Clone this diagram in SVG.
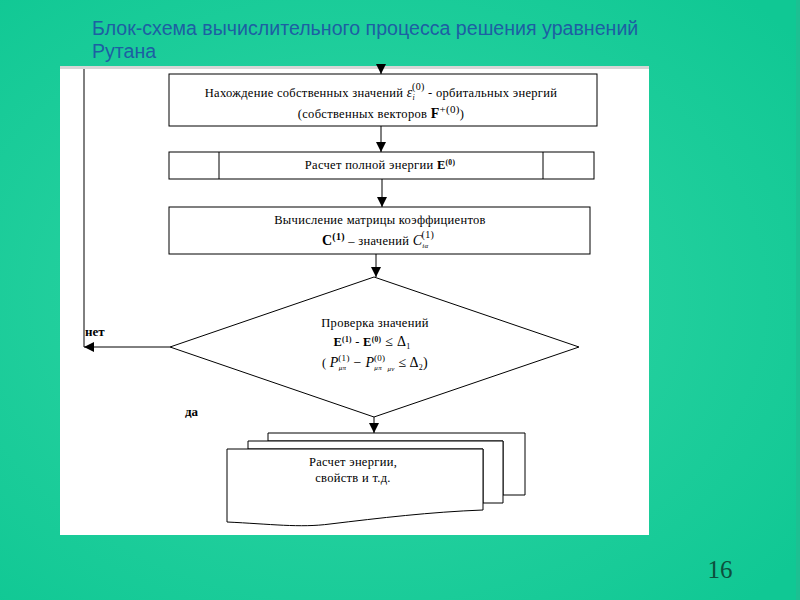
<svg xmlns="http://www.w3.org/2000/svg" width="800" height="600" viewBox="0 0 800 600">
<defs>
<radialGradient id="bg" cx="0.45" cy="0.5" r="0.7">
<stop offset="0" stop-color="#34d6a6"/>
<stop offset="1" stop-color="#10c894"/>
</radialGradient>
<marker id="arr" viewBox="0 0 10 10" refX="10" refY="5" markerWidth="10" markerHeight="10" markerUnits="userSpaceOnUse" orient="auto">
<path d="M0,0 L10,5 L0,10 z" fill="#000"/>
</marker>
<style>
.box{fill:#fff;stroke:#000;stroke-width:1}
.ln{fill:none;stroke:#000;stroke-width:1}
.t{font-family:"Liberation Serif","DejaVu Serif",serif;font-size:12.5px;letter-spacing:0.3px;fill:#000;text-anchor:middle}
.b{font-weight:bold}
.i{font-style:italic}
.lbl{font-family:"Liberation Serif",serif;font-size:13px;font-weight:bold;fill:#000}
</style>
</defs>
<rect width="800" height="600" fill="url(#bg)"/>
<rect x="796" y="0" width="4" height="600" fill="#1cc092"/>
<g id="title" font-family="Liberation Sans, Arial, sans-serif" font-size="19.6" fill="#1d5fa3">
<text x="92" y="35">Блок-схема вычислительного процесса решения уравнений</text>
<text x="92" y="58">Рутана</text>
</g>
<rect x="60" y="66" width="589" height="469" fill="#fff"/>
<rect x="60" y="66" width="589" height="3" fill="#d6d6d6"/>
<g id="connectors">
<line class="ln" x1="381" y1="68" x2="381" y2="74" marker-end="url(#arr)"/>
<line class="ln" x1="381" y1="126" x2="381" y2="152" marker-end="url(#arr)"/>
<line class="ln" x1="382" y1="179" x2="382" y2="207" marker-end="url(#arr)"/>
<line class="ln" x1="376" y1="254" x2="376" y2="277" marker-end="url(#arr)"/>
<polyline class="ln" points="84,69 84,347"/>
<line class="ln" x1="170" y1="347" x2="84" y2="347" marker-end="url(#arr)"/>
<line class="ln" x1="374" y1="417" x2="374" y2="433" marker-end="url(#arr)"/>
</g>
<g id="box1">
<rect class="box" x="169" y="74" width="428" height="52"/>
<text class="t" x="381" y="97">Нахождение собственных значений <tspan class="i" font-size="14">ε</tspan><tspan class="i" font-size="8" dy="3">i</tspan><tspan font-size="10" dx="-3" dy="-10">(0)</tspan><tspan dy="7"> - орбитальных энергий</tspan></text>
<text class="t" x="381" y="118">(собственных векторов <tspan class="b" font-size="14">F</tspan><tspan font-size="11" dy="-5">+(0)</tspan><tspan dy="5">)</tspan></text>
</g>
<g id="box2">
<rect class="box" x="169" y="152" width="425" height="27"/>
<line class="ln" x1="219" y1="152" x2="219" y2="179"/>
<line class="ln" x1="543" y1="152" x2="543" y2="179"/>
<text class="t" x="380" y="169">Расчет полной энергии <tspan class="b">E</tspan><tspan class="b" font-size="7.5" dy="-4">(0)</tspan></text>
</g>
<g id="box3">
<rect class="box" x="169" y="207" width="421" height="47"/>
<text class="t" x="380" y="224">Вычисление матрицы коэффициентов</text>
<text class="t" x="378" y="245"><tspan class="b" font-size="14">C</tspan><tspan class="b" font-size="10" dy="-5">(1)</tspan><tspan dy="5"> – значений </tspan><tspan class="i" font-size="14">C</tspan><tspan class="i" font-size="7" dy="3">iα</tspan><tspan font-size="10" dx="-7" dy="-10">(1)</tspan></text>
</g>
<g id="decision">
<polygon class="box" points="170,347 374,277 579,347 374,417"/>
<text class="t" x="375" y="327">Проверка значений</text>
<text class="t" x="372" y="346"><tspan class="b">E</tspan><tspan class="b" font-size="7.5" dy="-4">(1)</tspan><tspan dy="4"> - </tspan><tspan class="b">E</tspan><tspan class="b" font-size="7.5" dy="-4">(0)</tspan><tspan dy="4" font-size="14">  ≤ Δ</tspan><tspan font-size="8" dy="3">1</tspan></text>
<text class="t" x="375" y="367">( <tspan class="i" font-size="14">P</tspan><tspan class="i" font-size="7" dy="3">μπ</tspan><tspan font-size="9" dx="-8" dy="-9">(1)</tspan><tspan font-size="14" dy="6"> − </tspan><tspan class="i" font-size="14">P</tspan><tspan class="i" font-size="7" dy="3">μπ</tspan><tspan font-size="9" dx="-8" dy="-9">(0)</tspan><tspan class="i" font-size="7" dy="10"> μν</tspan><tspan font-size="14" dy="-4"> ≤ Δ</tspan><tspan font-size="8" dy="3">2</tspan><tspan font-size="14" dy="-3">)</tspan></text>
</g>
<g id="labels">
<text class="lbl" x="85" y="336">нет</text>
<text class="lbl" x="185" y="416">да</text>
</g>
<g id="docs">
<path class="box" d="M268,433 H525 V495 H503 V441 H268 Z"/>
<path class="box" d="M248,441 H503 V503 H483 V449 H248 Z"/>
<path class="box" d="M227,449 H483 V510 C430,512 380,518 330,524 C300,528 270,524 227,522 Z"/>
<text class="t" x="353" y="466">Расчет энергии,</text>
<text class="t" x="353" y="482">свойств и т.д.</text>
</g>
<text x="720" y="578" font-family="Liberation Serif, serif" font-size="25" fill="#0d4f3d" text-anchor="middle">16</text>
</svg>
